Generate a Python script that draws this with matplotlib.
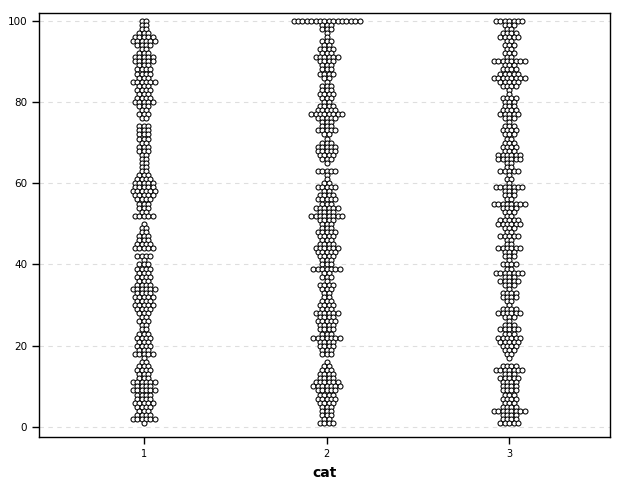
import matplotlib
matplotlib.use("Agg")
import matplotlib.pyplot as plt
import numpy as np

categories = [1, 2, 3]
values = list(range(100, -1, -1))  # 100 down to 0

cat1_counts = [2, 2, 2, 3, 5, 6, 4, 2, 3, 5, 5, 3, 4, 4, 3, 6, 3, 4, 3, 4, 5,
               3, 2, 3, 2, 0, 3, 3, 3, 3, 2, 3, 3, 2, 2, 2, 2, 2, 3, 4, 5,
               5, 6, 5, 4, 3, 3, 2, 5, 0, 1, 2, 2, 3, 3, 4, 5, 0, 4, 1, 3,
               4, 3, 4, 3, 4, 6, 4, 5, 4, 5, 4, 3, 2, 3, 2, 2, 3, 4, 3, 4,
               3, 5, 1, 2, 3, 4, 3, 3, 6, 4, 6, 4, 4, 5, 4, 3, 4, 6, 1, 0]
cat2_counts = [16, 3, 3, 1, 1, 3, 2, 4, 3, 6, 4, 3, 3, 4, 2, 1, 3, 3, 4, 3, 2,
               4, 5, 8, 5, 3, 3, 5, 2, 1, 3, 5, 5, 4, 3, 1, 0, 5, 1, 1, 2,
               5, 2, 4, 5, 3, 6, 4, 8, 4, 3, 3, 5, 4, 3, 4, 6, 5, 4, 3, 3,
               7, 2, 3, 1, 4, 3, 2, 2, 3, 4, 3, 6, 4, 5, 4, 4, 3, 7, 4, 4,
               3, 3, 0, 1, 2, 3, 4, 4, 6, 7, 5, 4, 5, 4, 3, 3, 3, 2, 4, 0]
cat3_counts = [7, 3, 2, 4, 5, 2, 3, 2, 3, 2, 8, 3, 4, 5, 8, 5, 4, 1, 1, 4, 3,
               3, 4, 5, 3, 1, 3, 4, 3, 2, 3, 4, 3, 6, 6, 2, 2, 5, 1, 2, 1,
               7, 3, 3, 2, 8, 4, 3, 2, 5, 6, 3, 2, 5, 2, 2, 6, 3, 3, 1, 4,
               2, 7, 3, 5, 3, 1, 4, 4, 2, 1, 4, 6, 3, 1, 3, 5, 3, 6, 5, 4,
               3, 2, 1, 0, 4, 7, 3, 5, 4, 4, 4, 3, 4, 3, 4, 8, 4, 4, 5, 0]
counts = [cat1_counts, cat2_counts, cat3_counts]
yticks = [0, 20, 40, 60, 80, 100]

fig = plt.figure(figsize=(6.24, 5.0), dpi=100)
ax = fig.add_axes([39/624, 1 - 437/500, (610-39)/624, (437-13)/500])
ax.set_xlim(0.426, 3.552)
ax.set_ylim(-2.46, 101.9)

# horizontal spacing of dots in data units (~4.4 px)
fig.canvas.draw()
p0 = ax.transData.transform((1, 0))
p1 = ax.transData.transform((2, 0))
dx = 4.4 / (p1[0] - p0[0])

for cat, cnt in zip(categories, counts):
    xs, ys = [], []
    for v, n in zip(values, cnt):
        for j in range(n):
            xs.append(cat + (j - (n - 1) / 2) * dx)
            ys.append(v)
    ax.scatter(xs, ys, s=13, facecolors='white', edgecolors='black',
               linewidths=0.75, zorder=3)

for t in yticks:
    ax.axhline(t, color='#dedede', lw=0.8, ls=(0, (4, 4)), zorder=1)

ax.set_xticks(categories)
ax.set_xticklabels([str(c) for c in categories], fontsize=7)
ax.set_yticks(yticks)
ax.set_yticklabels([str(t) for t in yticks], fontsize=7.5)
ax.tick_params(direction='out', length=5, width=1)
for s in ax.spines.values():
    s.set_linewidth(1)
ax.set_xlabel('cat', fontsize=10, fontweight='bold', labelpad=5)

fig.savefig('out.png', dpi=100)
